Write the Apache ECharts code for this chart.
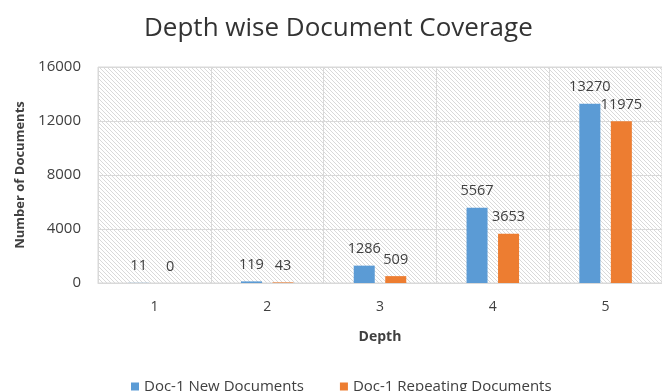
<!DOCTYPE html>
<html>
<head>
<meta charset="utf-8">
<script src="https://cdn.jsdelivr.net/npm/echarts@6/dist/echarts.min.js"></script>
<style>
  html, body { margin: 0; padding: 0; background: #ffffff; }
  #chart { width: 662px; height: 391px; }
</style>
</head>
<body>
<div id="chart"></div>
<script>
// Depth levels and document counts per level
const depths = ['1', '2', '3', '4', '5'];
const newDocs = [11, 119, 1286, 5567, 13270];
const repeatingDocs = [0, 43, 509, 3653, 11975];
const yTicks = [0, 4000, 8000, 12000, 16000];

// Diagonal hatch used as the plot background
function hatchPattern() {
  const c = document.createElement('canvas');
  c.width = 4; c.height = 4;
  const g = c.getContext('2d');
  g.fillStyle = '#ffffff';
  g.fillRect(0, 0, 4, 4);
  g.strokeStyle = '#d9d9d9';
  g.lineWidth = 1;
  g.beginPath();
  g.moveTo(-1, -1); g.lineTo(5, 5);
  g.moveTo(-1, 3); g.lineTo(1, 5);
  g.moveTo(3, -1); g.lineTo(5, 1);
  g.stroke();
  return { image: c, repeat: 'repeat' };
}

const font = 'Open Sans';
const chart = echarts.init(document.getElementById('chart'), null, { renderer: 'canvas' });

const labelStyle = {
  show: true,
  position: 'top',
  distance: 9,
  color: '#404040',
  fontFamily: font,
  fontSize: 14.5
};

chart.setOption({
  animation: false,
  title: {
    text: 'Depth wise Document Coverage',
    left: 139,
    top: 11,
    textStyle: { fontFamily: font, fontSize: 26, fontWeight: 'normal', color: '#333333' }
  },
  grid: {
    left: 98, top: 67, width: 568, height: 216,
    containLabel: false,
    show: true,
    backgroundColor: hatchPattern(),
    borderColor: '#d9d9d9',
    borderWidth: 1
  },
  legend: {
    data: ['Doc-1 New Documents', 'Doc-1 Repeating Documents'],
    left: 126, top: 374,
    icon: 'rect', itemWidth: 8, itemHeight: 8, itemGap: 36,
    textStyle: { fontFamily: font, fontSize: 15, color: '#404040' }
  },
  xAxis: {
    type: 'category',
    data: depths,
    name: 'Depth',
    nameLocation: 'middle',
    nameGap: 47,
    nameTextStyle: { fontFamily: font, fontSize: 14, fontWeight: 'bold', color: '#404040' },
    axisTick: { show: false },
    axisLine: { lineStyle: { color: '#d9d9d9' } },
    axisLabel: { fontFamily: font, fontSize: 14, color: '#404040', margin: 17 },
    splitLine: { show: true, lineStyle: { color: '#d9d9d9' } }
  },
  yAxis: {
    type: 'value',
    min: yTicks[0], max: yTicks[yTicks.length - 1], interval: 4000,
    name: 'Number of Documents',
    nameLocation: 'middle',
    nameGap: 69,
    nameTextStyle: { fontFamily: font, fontSize: 13, fontWeight: 'bold', color: '#404040' },
    axisLabel: {
      fontFamily: font, fontSize: 15, color: '#404040', margin: 17,
      formatter: (v) => String(v)
    },
    axisLine: { show: false },
    axisTick: { show: false },
    splitLine: { lineStyle: { color: '#d9d9d9' } }
  },
  series: [
    {
      name: 'Doc-1 New Documents',
      type: 'bar',
      data: newDocs,
      barWidth: 21,
      barGap: '50%',
      itemStyle: { color: '#5b9bd5' },
      label: labelStyle
    },
    {
      name: 'Doc-1 Repeating Documents',
      type: 'bar',
      data: repeatingDocs,
      barWidth: 21,
      itemStyle: { color: '#ed7d31' },
      label: labelStyle
    }
  ]
});
</script>
</body>
</html>
